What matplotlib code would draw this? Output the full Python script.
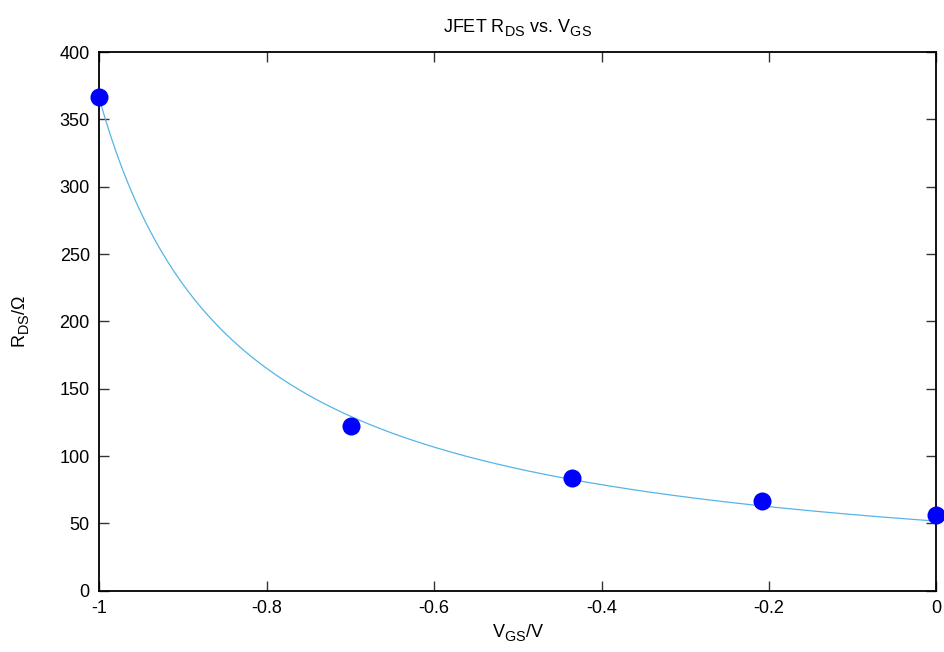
import numpy as np
import matplotlib
matplotlib.use('Agg')
import matplotlib.pyplot as plt

plt.rcParams['font.family'] = ['Liberation Sans', 'DejaVu Sans']
plt.rcParams['mathtext.fontset'] = 'custom'
plt.rcParams['mathtext.rm'] = 'Liberation Sans'
plt.rcParams['mathtext.it'] = 'Liberation Sans'

# gnuplot-like subscripts: a bit bigger and lower than mathtext's default
try:
    from matplotlib import _mathtext
    _mathtext.SHRINK_FACTOR = 0.8
    _mathtext.FontConstantsBase.sub1 = 0.45
except Exception:
    pass

# measured points
vgs = [-1.0, -0.70, -0.435, -0.208, 0.0]
rds = [366.4, 122.5, 83.9, 66.8, 56.2]

# fit parameters of R = R0 / (1 - Vgs/Vp)
r0 = 51.7
vp = -1.165

xticks = [-1, -0.8, -0.6, -0.4, -0.2, 0]
yticks = [0, 50, 100, 150, 200, 250, 300, 350, 400]

fig = plt.figure(figsize=(9.44, 6.52), dpi=100)
ax = fig.add_axes([0.1054, 0.094, 0.8864, 0.8262])

v = np.linspace(-1, 0, 400)
ax.plot(v, r0 / (1 - v / vp), color='#56b4e9', lw=0.9, zorder=2)
ax.plot(vgs, rds, 'o', color='#0000ff', ms=13, mec='none', clip_on=False, zorder=3)

ax.set_xlim(-1, 0)
ax.set_ylim(0, 400)
ax.set_xticks(xticks)
ax.set_xticklabels(['-1', '-0.8', '-0.6', '-0.4', '-0.2', '0'])
ax.set_yticks(yticks)
ax.tick_params(direction='in', top=True, right=True, length=7, width=1,
               labelsize=13, pad=7, color='#333333')
for s in ax.spines.values():
    s.set_linewidth(1.3)

ax.set_title(r'JFET $\mathregular{R_{DS}}$ vs. $\mathregular{V_{GS}}$', fontsize=13, pad=14)
ax.set_xlabel(r'$\mathregular{V_{GS}}$/V', fontsize=13, labelpad=4)
ax.set_ylabel(r'$\mathregular{R_{DS}}$/Ω', fontsize=13, labelpad=20)

fig.savefig('out.png', dpi=100)
